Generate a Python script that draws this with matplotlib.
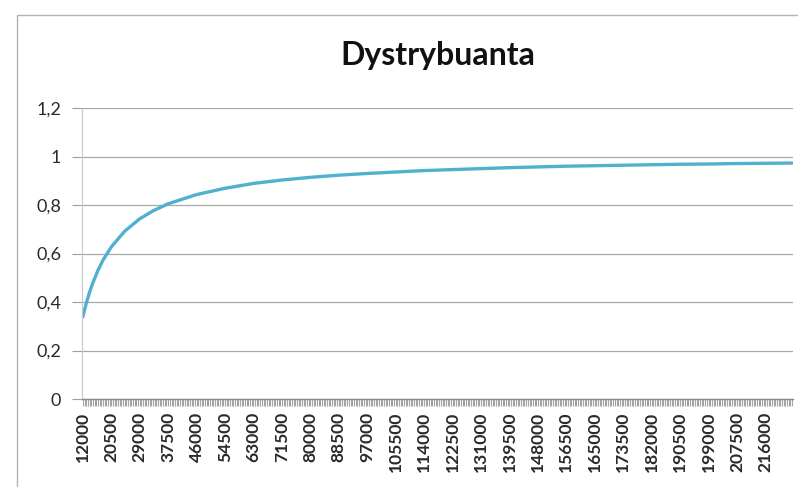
import matplotlib
matplotlib.use('Agg')
import matplotlib.pyplot as plt
from matplotlib.patches import Rectangle
from matplotlib.ticker import FixedLocator, MultipleLocator, FuncFormatter

# values (category value -> CDF)
x_vals = [12000, 13000, 14000, 15000, 16500, 18000, 20500, 24500, 29000, 33000,
          37500, 46000, 54500, 63000, 71500, 80000, 88500, 97000, 105500, 114000,
          122500, 131000, 139500, 148000, 156500, 165000, 173500, 182000, 190500,
          199000, 207500, 216000, 224000]
F_vals = [0.339, 0.393, 0.440, 0.479, 0.530, 0.572, 0.627, 0.692, 0.743, 0.776,
          0.805, 0.843, 0.869, 0.889, 0.903, 0.914, 0.923, 0.930, 0.936, 0.942,
          0.946, 0.950, 0.954, 0.957, 0.960, 0.962, 0.964, 0.966, 0.968,
          0.969, 0.971, 0.972, 0.973]
tick_labels = [str(v) for v in range(12000, 216001, 8500)]
y_ticks = [0, 0.2, 0.4, 0.6, 0.8, 1, 1.2]

plt.rcParams['font.family'] = ['Lato', 'DejaVu Sans']

fig = plt.figure(figsize=(7.98, 4.87), dpi=100)
ax = fig.add_axes([82/798, 1-399/487, (793-82)/798, (399-108)/487])

# chart border
fig.patches.append(Rectangle((17/798, -0.1), 1.2, 1.1-15/487, transform=fig.transFigure,
                             fill=False, edgecolor='#b5b5b5', linewidth=1.0))

ax.plot(x_vals, F_vals, color='#52b0cf', linewidth=2.4, solid_capstyle='round')

ax.set_xlim(11750, 224250)
ax.set_ylim(0, 1.2)

ax.yaxis.set_major_locator(FixedLocator(y_ticks))
ax.yaxis.set_major_formatter(FuncFormatter(lambda v, p: ('%g' % round(v, 1)).replace('.', ',')))
ax.xaxis.set_major_locator(FixedLocator([int(t) for t in tick_labels]))
ax.set_xticklabels(tick_labels, rotation=90, fontsize=12.5, fontweight='bold', color='#2a2a2a')
ax.xaxis.set_minor_locator(MultipleLocator(500))
ax.tick_params(axis='x', which='both', length=5, width=0.8, color='#a5a5a5', pad=4)
ax.tick_params(axis='y', which='major', length=7, width=0.8, color='#a0a0a0', pad=8,
               labelsize=13, labelcolor='#2a2a2a')

ax.grid(axis='y', color='#a8a8a8', linewidth=0.9)
ax.set_axisbelow(True)
for s in ['top', 'right']:
    ax.spines[s].set_visible(False)
ax.spines['left'].set_color('#c8c8c8')
ax.spines['bottom'].set_color('#8a8a8a')
ax.spines['bottom'].set_linewidth(1.0)

fig.text((82+793)/2/798, 1-55/487, 'Dystrybuanta', ha='center', va='center',
         fontsize=23, fontweight='bold', color='#111111')

fig.savefig('out.png', dpi=100)
